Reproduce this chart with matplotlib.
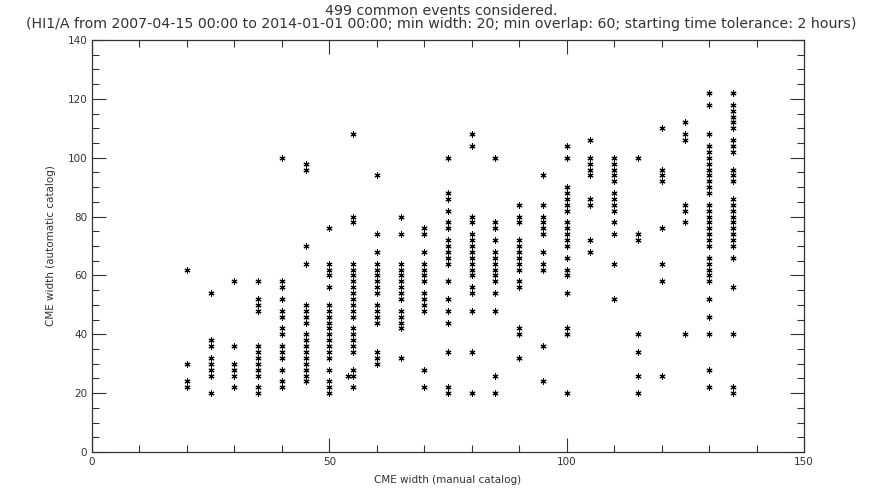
import matplotlib
matplotlib.use("Agg")
import matplotlib.pyplot as plt
from matplotlib.ticker import MultipleLocator

# manual catalog width -> automatic catalog widths
manual_widths = [20, 25, 30, 35, 40, 45, 50, 55, 60, 65, 70, 75,
                 80, 85, 90, 95, 100, 105, 110, 115, 120, 125, 130, 135]
auto_widths = [
    [62, 30, 24, 22],
    [54, 38, 36, 32, 30, 28, 26, 20],
    [58, 36, 30, 28, 26, 22],
    [58, 52, 50, 48, 36, 34, 32, 30, 28, 26, 22, 20],
    [100, 58, 56, 52, 48, 46, 42, 40, 36, 34, 32, 28, 24, 22],
    [98, 96, 70, 64, 50, 48, 46, 44, 40, 38, 36, 34, 32, 30, 28, 26, 24],
    [76, 64, 62, 60, 56, 50, 48, 46, 44, 42, 40, 38, 36, 34, 32, 28, 24, 22, 20],
    [108, 80, 78, 64, 62, 60, 58, 56, 54, 52, 50, 48, 46, 42, 40, 38, 36, 34, 28, 26, 22],
    [94, 74, 68, 64, 62, 60, 58, 56, 54, 50, 48, 46, 44, 34, 32, 30],
    [80, 74, 64, 62, 60, 58, 56, 54, 52, 48, 46, 44, 42, 32],
    [76, 74, 68, 64, 62, 60, 58, 54, 52, 50, 48, 28, 22],
    [100, 88, 86, 82, 78, 76, 72, 70, 68, 66, 64, 58, 52, 48, 44, 34, 22, 20],
    [108, 104, 80, 78, 74, 72, 70, 68, 66, 64, 62, 60, 56, 54, 48, 34, 20],
    [100, 78, 76, 72, 68, 66, 64, 62, 60, 58, 54, 48, 26, 20],
    [84, 80, 78, 72, 70, 68, 66, 64, 62, 58, 56, 42, 40, 32],
    [94, 84, 80, 78, 76, 74, 68, 64, 62, 36, 24],
    [104, 100, 90, 88, 86, 84, 82, 78, 76, 74, 72, 70, 66, 62, 60, 54, 42, 40, 20],
    [106, 100, 98, 96, 94, 86, 84, 72, 68],
    [100, 98, 96, 94, 92, 88, 86, 84, 82, 78, 74, 64, 52],
    [100, 74, 72, 40, 34, 26, 20],
    [110, 96, 94, 92, 76, 64, 58, 26],
    [112, 108, 106, 84, 82, 78, 40],
    [122, 118, 108, 104, 102, 100, 98, 96, 94, 92, 90, 88, 84, 82, 80, 78, 76,
     74, 72, 70, 66, 64, 62, 60, 58, 52, 46, 40, 28, 22],
    [122, 118, 116, 114, 112, 110, 106, 104, 102, 96, 94, 92, 86, 84, 82, 80,
     78, 76, 74, 72, 70, 66, 56, 40, 22, 20],
]
# a few events off the 5-degree grid
extra_x = [54]
extra_y = [26]

xs, ys = [], []
for mw, col in zip(manual_widths, auto_widths):
    xs += [mw] * len(col)
    ys += col
xs += extra_x
ys += extra_y

n_events = 499
title = (f"{n_events} common events considered.\n"
         "(HI1/A from 2007-04-15 00:00 to 2014-01-01 00:00; min width: 20; "
         "min overlap: 60; starting time tolerance: 2 hours)")

fig = plt.figure(figsize=(8.83, 4.91), dpi=100)
ax = fig.add_axes([0.1042, 0.0794, 0.8063, 0.8391])

ax.scatter(xs, ys, marker=(6, 2, 0), s=14, c="black", linewidths=0.8)

ax.set_xlim(0, 150)
ax.set_ylim(0, 140)
ax.xaxis.set_major_locator(MultipleLocator(50))
ax.xaxis.set_minor_locator(MultipleLocator(10))
ax.yaxis.set_major_locator(MultipleLocator(20))
ax.yaxis.set_minor_locator(MultipleLocator(5))
ax.tick_params(which="both", direction="in", top=True, right=True,
               labelsize=7.5, colors="#333333", width=0.8)
ax.tick_params(which="major", length=10)
ax.tick_params(which="minor", length=5)
for s in ax.spines.values():
    s.set_color("#333333")
    s.set_linewidth(0.9)

ax.set_xlabel("CME width (manual catalog)", fontsize=7.5, labelpad=6,
              color="#333333")
ax.set_ylabel("CME width (automatic catalog)", fontsize=7.5, labelpad=8,
              color="#333333")
fig.suptitle(title, fontsize=10.2, y=0.992, linespacing=0.95, color="#333333")

fig.savefig("out.png", dpi=100, facecolor="white")
